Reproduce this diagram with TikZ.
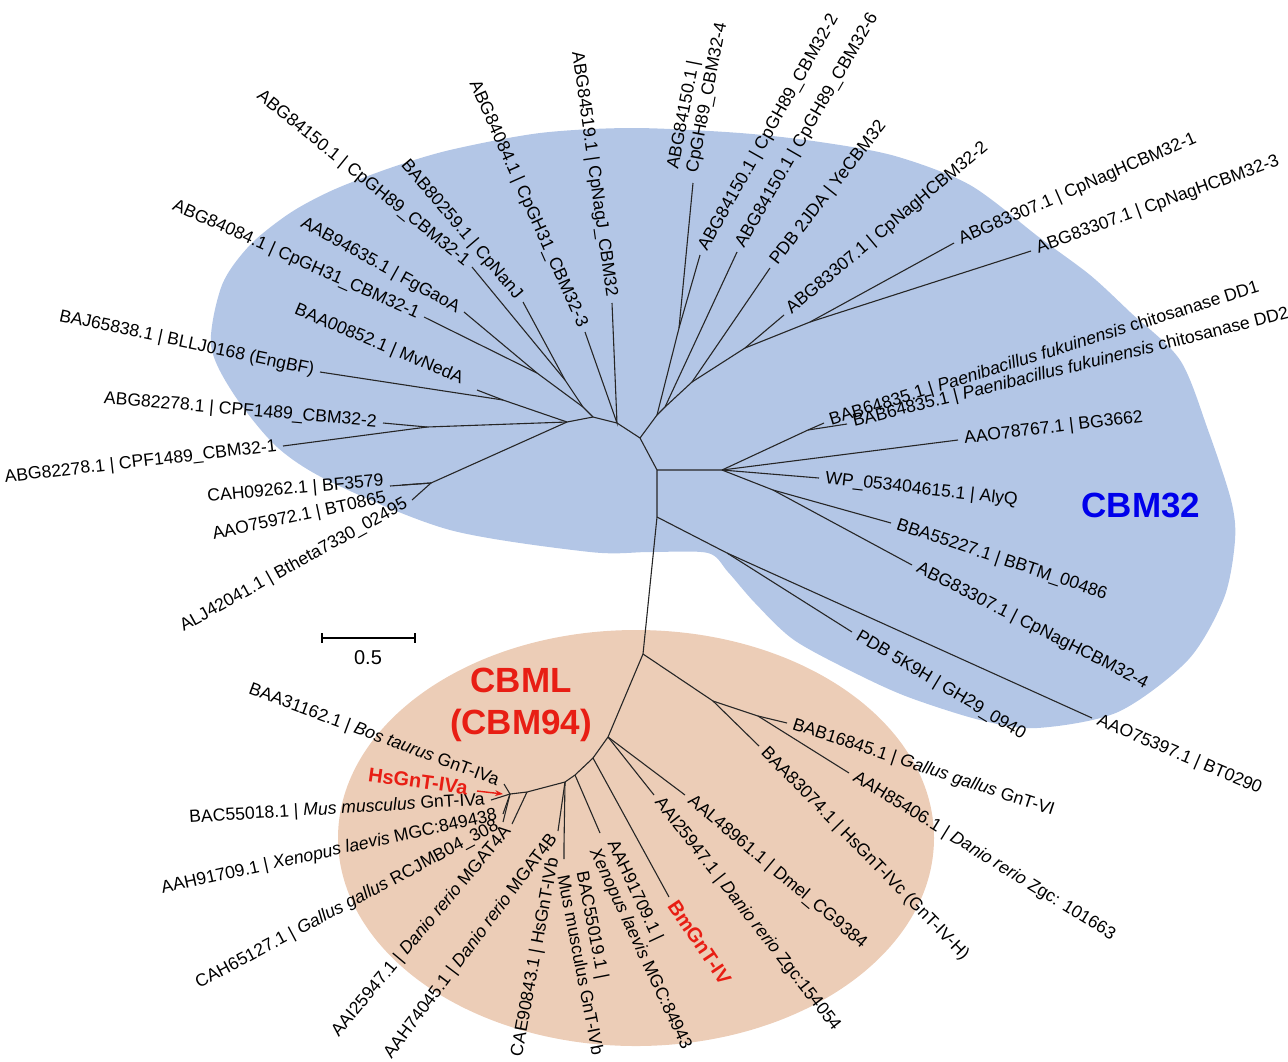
\documentclass[tikz,border=0pt]{standalone}
\usepackage{fontspec}
\setmainfont{Liberation Sans}
\usepackage{xcolor}
\usepackage{tikz}
\usetikzlibrary{arrows.meta, calc}

\definecolor{cladeblue}{RGB}{179,198,230}
\definecolor{cladetan}{RGB}{236,205,183}
\definecolor{cbmred}{RGB}{232,30,20}
\definecolor{cbmblue}{RGB}{0,0,235}
\newcommand{\leaffont}{\fontsize{8.8}{9.8}\selectfont}
\newcommand{\spname}[1]{\textit{#1}}

\begin{document}
\begin{tikzpicture}[x=0.5pt, y=-0.5pt,
    branch/.style={draw=black!85, line width=0.55pt},
    lbl/.style={font=\leaffont, inner sep=3pt},
    lblE/.style={lbl, anchor=east},
    lblW/.style={lbl, anchor=west},
    clade/.style={font=\fontsize{17.5}{21}\selectfont\bfseries, align=center},
    hilite/.style={font=\fontsize{10}{12}\selectfont\bfseries, text=cbmred, inner sep=3pt}]
    \useasboundingbox (0,0) rectangle (1288,1061);

    % Clade areas
    \fill[cladeblue] plot[smooth cycle, tension=0.5] coordinates {
        (211,345) (222,285) (250,245) (290,213) (333,190) (390,168) (450,150)
        (540,133) (633,128) (740,133) (820,142) (895,156) (970,185) (1040,238)
        (1090,275) (1130,312) (1180,360) (1208,430) (1231,500) (1235,540)
        (1224,598) (1188,660) (1118,712) (1037,728) (980,720) (908,697)
        (855,673) (794,640) (755,603) (728,572) (708,553) (650,552) (590,552)
        (450,530) (333,483) (277,447) (233,393)};
    \fill[cladetan] (636,838) ellipse [x radius=298, y radius=208];

    % Internal nodes
    \foreach \n/\x/\y in {P1/567/422, P2/593/417, P3/617/423, P4/640/438, P5/657/470, P6/657/517,
        E1/503/400, C1/427/427, T1/431/483, F1/537/373, F2/565/380, L1/583/407,
        Q1/657/415, Q0/679/328, Q2/665/407, Q3/692/382, Q4/745/348, Q5/810/322,
        H2/722/470, D1/808/430, B1/773/490, K1/727/553,
        O1/643/654, O2/713/701, O3/758/716, O4/608/737, O5/593/758, O6/575/775,
        O7/565/782, O8/527/792, O9/510/794} {
        \coordinate (\n) at (\x,\y);
    }

    % Leaf tips
    \foreach \n/\x/\y in {t_engbf/320/372, t_mvneda/477/390, t_cpf2/383/423, t_cpf1/283/446,
        t_bf/390/486, t_bt0865/402/485, t_alj/412/500,
        t_gh31a/424/317, t_gaoa/464/312, t_gh89a/472/267, t_nanj/523/302, t_gh31c/585/332, t_nagj/612/303,
        t_gh89d/693/183, t_gh89b/700/255, t_gh89f/737/252, t_ye/770/268, t_nagh2/784/315,
        t_nagh1/954/243, t_nagh3/1031/251,
        t_dd1/824/423, t_dd2/847/424, t_bg/958/440, t_alyq/819/478, t_bbtm/891/523,
        t_nagh4/912/565, t_gh29/852/632, t_bt0290/1092/718,
        t_gntvi/787/723, t_zgc101/849/773, t_gntivc/759/746, t_dmel/685/795, t_zgc154/654/795,
        t_bm/669/897, t_xen2/600/833, t_mus2/564/859, t_cae/564/845, t_mgat4b/558/831,
        t_mgat4a/512/824, t_bos/504/784, t_mus1/491/800, t_xen1/503/814, t_gal/503/822,
        arr_s/477/791, arr_e/503/794} {
        \coordinate (\n) at (\x,\y);
    }

    % Backbone
    \draw[branch] (P1) -- (P2) -- (P3) -- (P4) -- (P5) -- (P6) -- (O1);

    % CBM32 branches
    \draw[branch] (t_mvneda) -- (E1) -- (P1);
    \draw[branch] (t_engbf) -- (E1);
    \draw[branch] (t_cpf2) -- (C1) -- (P1);
    \draw[branch] (t_cpf1) -- (C1);
    \draw[branch] (t_bf) -- (T1) -- (P1);
    \draw[branch] (t_bt0865) -- (T1);
    \draw[branch] (t_alj) -- (T1);
    \draw[branch] (t_gh31a) -- (F1) -- (L1) -- (P2);
    \draw[branch] (t_gaoa) -- (F1);
    \draw[branch] (t_gh89a) -- (F2) -- (L1);
    \draw[branch] (t_nanj) -- (F2);
    \draw[branch] (t_gh31c) -- (P3) -- (t_nagj);
    \draw[branch] (P4) -- (Q1) -- (Q2) -- (Q3) -- (Q4) -- (Q5) -- (t_nagh3);
    \draw[branch] (Q1) -- (Q0) -- (t_gh89d);
    \draw[branch] (Q0) -- (t_gh89b);
    \draw[branch] (Q2) -- (t_gh89f);
    \draw[branch] (Q3) -- (t_ye);
    \draw[branch] (Q4) -- (t_nagh2);
    \draw[branch] (Q5) -- (t_nagh1);
    \draw[branch] (P5) -- (H2) -- (D1) -- (t_dd1);
    \draw[branch] (D1) -- (t_dd2);
    \draw[branch] (H2) -- (t_bg);
    \draw[branch] (H2) -- (t_alyq);
    \draw[branch] (H2) -- (B1) -- (t_bbtm);
    \draw[branch] (B1) -- (t_nagh4);
    \draw[branch] (P6) -- (K1) -- (t_gh29);
    \draw[branch] (K1) -- (t_bt0290);

    % CBM94 branches
    \draw[branch] (O1) -- (O2) -- (O3) -- (t_gntvi);
    \draw[branch] (O3) -- (t_zgc101);
    \draw[branch] (O2) -- (t_gntivc);
    \draw[branch] (O1) -- (O4) -- (O5) -- (O6) -- (O7) -- (O8) -- (O9);
    \draw[branch] (O4) -- (t_dmel);
    \draw[branch] (O4) -- (t_zgc154);
    \draw[branch] (O5) -- (t_bm);
    \draw[branch] (O6) -- (t_xen2);
    \draw[branch] (O7) -- (t_mgat4b);
    \draw[branch] (O7) -- (t_cae) -- (t_mus2);
    \draw[branch] (O8) -- (t_mgat4a);
    \draw[branch] (O9) -- (t_bos);
    \draw[branch] (O9) -- (t_mus1);
    \draw[branch] (O9) -- (t_xen1);
    \draw[branch] (O9) -- (t_gal);

    % CBM32 labels
    \node[lblE, rotate=-12] (l_engbf) at (t_engbf) {BAJ65838.1 | BLLJ0168 (EngBF)};
    \node[lblE, rotate=-22.7] (l_mvneda) at (468,382) {BAA00852.1 | MvNedA};
    \node[lblE, rotate=-5] (l_cpf2) at (t_cpf2) {ABG82278.1 | CPF1489\_CBM32-2};
    \node[lblE, rotate=6.6] (l_cpf1) at (t_cpf1) {ABG82278.1 | CPF1489\_CBM32-1};
    \node[lblE, rotate=5] (l_bf) at (390,481) {CAH09262.1 | BF3579};
    \node[lblE, rotate=12] (l_bt0865) at (392,497) {AAO75972.1 | BT0865};
    \node[lblE, rotate=29] (l_alj) at (t_alj) {ALJ42041.1 | Btheta7330\_02495};
    \node[lblE, rotate=-24] (l_gh31a) at (t_gh31a) {ABG84084.1 | CpGH31\_CBM32-1};
    \node[lblE, rotate=-29] (l_gaoa) at (t_gaoa) {AAB94635.1 | FgGaoA};
    \node[lblE, rotate=-39] (l_gh89a) at (t_gh89a) {ABG84150.1 | CpGH89\_CBM32-1};
    \node[lblE, rotate=-49.5] (l_nanj) at (t_nanj) {BAB80259.1 | CpNanJ};
    \node[lblE, rotate=-66] (l_gh31c) at (t_gh31c) {ABG84084.1 | CpGH31\_CBM32-3};
    \node[lblE, rotate=-82] (l_nagj) at (t_nagj) {ABG84519.1 | CpNagJ\_CBM32};
    \node[lblW, rotate=79, align=left] (l_gh89d) at (682,177) {ABG84150.1 |\\CpGH89\_CBM32-4};
    \node[lblW, rotate=60.6] (l_gh89b) at (t_gh89b) {ABG84150.1 | CpGH89\_CBM32-2};
    \node[lblW, rotate=60] (l_gh89f) at (t_gh89f) {ABG84150.1 | CpGH89\_CBM32-6};
    \node[lblW, rotate=52] (l_ye) at (t_ye) {PDB 2JDA | YeCBM32};
    \node[lblW, rotate=40] (l_nagh2) at (t_nagh2) {ABG83307.1 | CpNagHCBM32-2};
    \node[lblW, rotate=23.5] (l_nagh1) at (t_nagh1) {ABG83307.1 | CpNagHCBM32-1};
    \node[lblW, rotate=20] (l_nagh3) at (t_nagh3) {ABG83307.1 | CpNagHCBM32-3};
    \node[lblW, rotate=17.3] (l_dd1) at (t_dd1) {BAB64835.1 | \spname{Paenibacillus fukuinensis} chitosanase DD1};
    \node[lblW, rotate=14] (l_dd2) at (t_dd2) {BAB64835.1 | \spname{Paenibacillus fukuinensis} chitosanase DD2};
    \node[lblW, rotate=7] (l_bg) at (t_bg) {AAO78767.1 | BG3662};
    \node[lblW, rotate=-6.5] (l_alyq) at (t_alyq) {WP\_053404615.1 | AlyQ};
    \node[lblW, rotate=-18.5] (l_bbtm) at (t_bbtm) {BBA55227.1 | BBTM\_00486};
    \node[lblW, rotate=-27] (l_nagh4) at (t_nagh4) {ABG83307.1 | CpNagHCBM32-4};
    \node[lblW, rotate=-31] (l_gh29) at (t_gh29) {PDB 5K9H | GH29\_0940};
    \node[lblW, rotate=-23] (l_bt0290) at (t_bt0290) {AAO75397.1 | BT0290};

    % CBM94 labels
    \node[lblW, rotate=-18.3] (l_gntvi) at (t_gntvi) {BAB16845.1 | \spname{Gallus gallus} GnT-VI};
    \node[lblW, rotate=-31.7] (l_zgc101) at (t_zgc101) {AAH85406.1 | \spname{Danio rerio} Zgc: 101663};
    \node[lblW, rotate=-45.6] (l_gntivc) at (t_gntivc) {BAA83074.1 | HsGnT-IVc (GnT-IV-H)};
    \node[lblW, rotate=-40] (l_dmel) at (t_dmel) {AAL48961.1 | Dmel\_CG9384};
    \node[lblW, rotate=-52] (l_zgc154) at (t_zgc154) {AAI25947.1 | \spname{Danio rerio} Zgc:154054};
    \node[hilite, anchor=west, rotate=-56] (l_bm) at (t_bm) {BmGnT-IV};
    \node[lblW, rotate=-65, align=left] (l_xen2) at (600,840) {AAH91709.1 |\\\spname{Xenopus laevis} MGC:84943};
    \node[lblW, rotate=-79, align=left] (l_mus2) at (572,867) {BAC55019.1 |\\Mus musculus GnT-IVb};
    \node[lblE, rotate=79.6] (l_cae) at (555,852) {CAE90843.1 | HsGnT-IVb};
    \node[lblE, rotate=53] (l_mgat4b) at (t_mgat4b) {AAH74045.1 | \spname{Danio rerio} MGAT4B};
    \node[lblE, rotate=50] (l_mgat4a) at (t_mgat4a) {AAI25947.1 | \spname{Danio rerio} MGAT4A};
    \node[lblE, rotate=28] (l_gal) at (t_gal) {CAH65127.1 | \spname{Gallus gallus} RCJMB04\_308};
    \node[lblE, rotate=12.4] (l_xen1) at (t_xen1) {AAH91709.1 | \spname{Xenopus laevis} MGC:849438};
    \node[lblE, rotate=3.5] (l_mus1) at (t_mus1) {BAC55018.1 | \spname{Mus musculus} GnT-IVa};
    \node[lblE, rotate=-20.4] (l_bos) at (t_bos) {BAA31162.1 | \spname{Bos taurus} GnT-IVa};
    \node[hilite, anchor=east, rotate=-8] (l_hsgnt) at (474,789) {HsGnT-IVa};
    \draw[cbmred, line width=0.7pt, -{Stealth[length=4pt, width=3pt]}] (arr_s) -- (arr_e);

    % Clade names
    \node[clade, text=cbmblue] (cbm32) at (1141,505) {CBM32};
    \node[clade, text=cbmred] (cbml) at (521,705) {CBML\\(CBM94)};

    % Scale bar
    \coordinate (sb_l) at (322,638);
    \coordinate (sb_r) at (415,638);
    \draw[line width=1pt] (sb_l) -- (sb_r);
    \draw[line width=1pt] ($(sb_l)+(0,-5)$) -- ($(sb_l)+(0,5)$);
    \draw[line width=1pt] ($(sb_r)+(0,-5)$) -- ($(sb_r)+(0,5)$);
    \node[font=\fontsize{10}{12}\selectfont] (sb_txt) at (368,658) {0.5};
\end{tikzpicture}
\end{document}
